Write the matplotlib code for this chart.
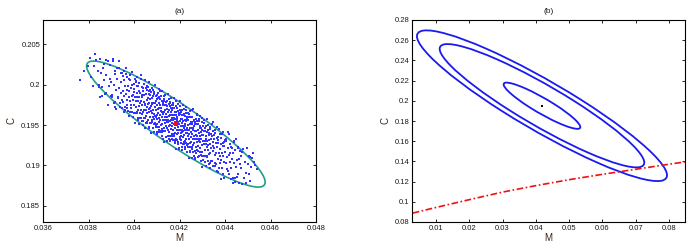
import matplotlib.pyplot as plt
from matplotlib.patches import Ellipse

plt.rcParams['font.family'] = ['Liberation Sans', 'DejaVu Sans']

# (a) Monte Carlo samples of (M, C)
samples = [
    (0.03762, 0.20058), (0.03778, 0.20172), (0.03796, 0.20231),
    (0.03812, 0.20095), (0.03826, 0.20228), (0.03830, 0.20385), (0.03841, 0.20163), (0.03848, 0.19992),
    (0.03852, 0.19845), (0.03917, 0.19722),
    (0.03853, 0.20141), (0.03858, 0.19968), (0.03864, 0.20212), (0.03869, 0.20055), (0.03875, 0.19902),
    (0.03879, 0.20118), (0.03884, 0.20297), (0.03888, 0.19981), (0.03893, 0.20064), (0.03898, 0.19861),
    (0.03901, 0.20032), (0.03904, 0.19874), (0.03908, 0.20318), (0.03912, 0.19995), (0.03915, 0.20128),
    (0.03918, 0.19791), (0.03921, 0.19938), (0.03925, 0.20071), (0.03929, 0.19852), (0.03932, 0.20204),
    (0.03935, 0.19963), (0.03938, 0.19722), (0.03941, 0.20031), (0.03944, 0.19898), (0.03947, 0.20146),
    (0.03949, 0.19809),
    (0.03951, 0.19920), (0.03953, 0.19784), (0.03955, 0.20055), (0.03958, 0.19858), (0.03959, 0.19981),
    (0.03961, 0.19682), (0.03963, 0.19879), (0.03965, 0.20137), (0.03967, 0.19805), (0.03969, 0.19928),
    (0.03971, 0.19714), (0.03973, 0.19985), (0.03976, 0.19850), (0.03977, 0.19924), (0.03979, 0.19616),
    (0.03981, 0.20054), (0.03983, 0.19796), (0.03985, 0.19956), (0.03987, 0.19747), (0.03989, 0.19857),
    (0.03991, 0.20001), (0.03993, 0.19657), (0.03995, 0.19866), (0.03997, 0.19804), (0.03999, 0.19903),
    (0.04001, 0.19750), (0.04002, 0.19947), (0.04004, 0.19652), (0.04005, 0.19842), (0.04007, 0.19726),
    (0.04008, 0.20033), (0.04009, 0.19792), (0.04011, 0.19893), (0.04012, 0.19660), (0.04014, 0.19850),
    (0.04015, 0.19979), (0.04016, 0.19561), (0.04018, 0.19803), (0.04019, 0.19685), (0.04020, 0.19846),
    (0.04022, 0.19735), (0.04023, 0.19926), (0.04025, 0.19593), (0.04026, 0.19896), (0.04027, 0.19773),
    (0.04029, 0.20068), (0.04030, 0.19692), (0.04032, 0.19802), (0.04033, 0.19639), (0.04035, 0.19842),
    (0.04036, 0.19867), (0.04037, 0.19747), (0.04039, 0.19667), (0.04040, 0.19925), (0.04041, 0.19545),
    (0.04043, 0.19790), (0.04044, 0.19690), (0.04046, 0.19875), (0.04047, 0.19465), (0.04049, 0.19765),
    (0.04050, 0.19753), (0.04051, 0.19617), (0.04052, 0.19888), (0.04053, 0.19691), (0.04055, 0.19814),
    (0.04056, 0.19531), (0.04057, 0.19728), (0.04058, 0.19986), (0.04059, 0.19654), (0.04060, 0.19761),
    (0.04061, 0.19564), (0.04063, 0.19835), (0.04064, 0.19700), (0.04065, 0.19774), (0.04066, 0.19466),
    (0.04067, 0.19921), (0.04068, 0.19663), (0.04069, 0.19823), (0.04070, 0.19597), (0.04071, 0.19707),
    (0.04072, 0.19867), (0.04074, 0.19523), (0.04075, 0.19732), (0.04076, 0.19670), (0.04077, 0.19769),
    (0.04078, 0.19765), (0.04079, 0.19565), (0.04080, 0.19833), (0.04081, 0.19643), (0.04082, 0.19938),
    (0.04083, 0.19603), (0.04085, 0.19683), (0.04086, 0.19513), (0.04087, 0.19770), (0.04088, 0.19570),
    (0.04089, 0.19888), (0.04090, 0.19642), (0.04091, 0.19722), (0.04092, 0.19617), (0.04094, 0.19777),
    (0.04095, 0.19600), (0.04096, 0.19797), (0.04097, 0.19502), (0.04098, 0.19692), (0.04099, 0.19576),
    (0.04100, 0.19866), (0.04101, 0.19625), (0.04102, 0.19743), (0.04103, 0.19510), (0.04104, 0.19700),
    (0.04105, 0.19829), (0.04106, 0.19411), (0.04107, 0.19653), (0.04108, 0.19535), (0.04109, 0.19713),
    (0.04110, 0.19585), (0.04111, 0.19776), (0.04112, 0.19443), (0.04113, 0.19746), (0.04114, 0.19623),
    (0.04115, 0.19918), (0.04116, 0.19558), (0.04117, 0.19668), (0.04118, 0.19505), (0.04119, 0.19708),
    (0.04120, 0.19717), (0.04121, 0.19597), (0.04122, 0.19517), (0.04123, 0.19792), (0.04124, 0.19412),
    (0.04125, 0.19657), (0.04126, 0.19557), (0.04127, 0.19742), (0.04128, 0.19332), (0.04129, 0.19632),
    (0.04130, 0.19665), (0.04131, 0.19465), (0.04132, 0.19750), (0.04133, 0.19560), (0.04134, 0.19855),
    (0.04135, 0.19520), (0.04136, 0.19600), (0.04137, 0.19430), (0.04138, 0.19687), (0.04139, 0.19487),
    (0.04140, 0.19788), (0.04141, 0.19558), (0.04142, 0.19638), (0.04143, 0.19533), (0.04144, 0.19693),
    (0.04145, 0.19603), (0.04146, 0.19467), (0.04147, 0.19738), (0.04148, 0.19541), (0.04149, 0.19664),
    (0.04150, 0.19364), (0.04151, 0.19561), (0.04152, 0.19819), (0.04153, 0.19487), (0.04154, 0.19610),
    (0.04155, 0.19413), (0.04155, 0.19684), (0.04156, 0.19549), (0.04157, 0.19623), (0.04158, 0.19315),
    (0.04159, 0.19770), (0.04160, 0.19496), (0.04161, 0.19656), (0.04162, 0.19447), (0.04163, 0.19557),
    (0.04164, 0.19717), (0.04165, 0.19373), (0.04165, 0.19582), (0.04166, 0.19520), (0.04167, 0.19619),
    (0.04168, 0.19483), (0.04169, 0.19680), (0.04170, 0.19368), (0.04171, 0.19558), (0.04172, 0.19442),
    (0.04173, 0.19749), (0.04174, 0.19508), (0.04175, 0.19626), (0.04175, 0.19393), (0.04176, 0.19583),
    (0.04177, 0.19712), (0.04178, 0.19294), (0.04179, 0.19536), (0.04180, 0.19401), (0.04181, 0.19579),
    (0.04182, 0.19468), (0.04183, 0.19659), (0.04184, 0.19326), (0.04185, 0.19629), (0.04185, 0.19506),
    (0.04186, 0.19801), (0.04187, 0.19441), (0.04188, 0.19551), (0.04189, 0.19388), (0.04190, 0.19575),
    (0.04191, 0.19600), (0.04192, 0.19480), (0.04193, 0.19400), (0.04194, 0.19675), (0.04195, 0.19295),
    (0.04195, 0.19540), (0.04196, 0.19440), (0.04197, 0.19625), (0.04198, 0.19215), (0.04199, 0.19515),
    (0.04200, 0.19548), (0.04201, 0.19348), (0.04202, 0.19633), (0.04203, 0.19443), (0.04204, 0.19738),
    (0.04205, 0.19403), (0.04205, 0.19483), (0.04206, 0.19313), (0.04207, 0.19570), (0.04208, 0.19370),
    (0.04209, 0.19688), (0.04210, 0.19441), (0.04211, 0.19521), (0.04212, 0.19416), (0.04213, 0.19576),
    (0.04214, 0.19486), (0.04215, 0.19350), (0.04215, 0.19621), (0.04216, 0.19424), (0.04217, 0.19547),
    (0.04218, 0.19264), (0.04219, 0.19461), (0.04220, 0.19703), (0.04221, 0.19371), (0.04222, 0.19494),
    (0.04223, 0.19297), (0.04224, 0.19568), (0.04225, 0.19433), (0.04225, 0.19507), (0.04226, 0.19199),
    (0.04227, 0.19654), (0.04228, 0.19396), (0.04229, 0.19556), (0.04230, 0.19330), (0.04231, 0.19440),
    (0.04232, 0.19600), (0.04233, 0.19256), (0.04234, 0.19465), (0.04235, 0.19403), (0.04236, 0.19502),
    (0.04237, 0.19366), (0.04238, 0.19563), (0.04239, 0.19268), (0.04240, 0.19441), (0.04241, 0.19325),
    (0.04242, 0.19632), (0.04243, 0.19391), (0.04244, 0.19509), (0.04245, 0.19276), (0.04246, 0.19466),
    (0.04247, 0.19595), (0.04248, 0.19177), (0.04249, 0.19419),
    (0.04250, 0.19284), (0.04251, 0.19462), (0.04252, 0.19351), (0.04253, 0.19542), (0.04254, 0.19209),
    (0.04255, 0.19512), (0.04256, 0.19389), (0.04257, 0.19684), (0.04258, 0.19324), (0.04259, 0.19434),
    (0.04260, 0.19255), (0.04261, 0.19458), (0.04262, 0.19483), (0.04263, 0.19363), (0.04264, 0.19283),
    (0.04265, 0.19558), (0.04266, 0.19178), (0.04267, 0.19423), (0.04268, 0.19323), (0.04269, 0.19508),
    (0.04270, 0.19081), (0.04271, 0.19381), (0.04272, 0.19431), (0.04274, 0.19231), (0.04275, 0.19516),
    (0.04276, 0.19326), (0.04277, 0.19621), (0.04278, 0.19286), (0.04279, 0.19366), (0.04280, 0.19179),
    (0.04281, 0.19436), (0.04282, 0.19236), (0.04284, 0.19554), (0.04285, 0.19324), (0.04286, 0.19404),
    (0.04287, 0.19299), (0.04288, 0.19459), (0.04289, 0.19369), (0.04290, 0.19217), (0.04291, 0.19488),
    (0.04292, 0.19291), (0.04294, 0.19414), (0.04295, 0.19131), (0.04296, 0.19328), (0.04297, 0.19586),
    (0.04298, 0.19254), (0.04299, 0.19377),
    (0.04300, 0.19163), (0.04301, 0.19434), (0.04303, 0.19299), (0.04304, 0.19373), (0.04305, 0.19065),
    (0.04306, 0.19520), (0.04308, 0.19262), (0.04309, 0.19422), (0.04310, 0.19196), (0.04311, 0.19306),
    (0.04313, 0.19466), (0.04314, 0.19122), (0.04315, 0.19331), (0.04316, 0.19269), (0.04318, 0.19368),
    (0.04319, 0.19232), (0.04320, 0.19413), (0.04321, 0.19118), (0.04323, 0.19308), (0.04324, 0.19192),
    (0.04325, 0.19499), (0.04326, 0.19258), (0.04328, 0.19376), (0.04329, 0.19143), (0.04330, 0.19316),
    (0.04332, 0.19445), (0.04333, 0.19027), (0.04335, 0.19269), (0.04336, 0.19151), (0.04337, 0.19329),
    (0.04339, 0.19218), (0.04340, 0.19392), (0.04342, 0.19059), (0.04343, 0.19362), (0.04345, 0.19239),
    (0.04346, 0.19534), (0.04347, 0.19174), (0.04349, 0.19284),
    (0.04351, 0.19332), (0.04353, 0.19212), (0.04354, 0.19132), (0.04356, 0.19407), (0.04357, 0.19027),
    (0.04359, 0.19272), (0.04361, 0.19156), (0.04363, 0.19341), (0.04364, 0.18931), (0.04366, 0.19231),
    (0.04367, 0.19281), (0.04369, 0.19081), (0.04371, 0.19349), (0.04372, 0.19159), (0.04374, 0.19454),
    (0.04376, 0.19119), (0.04377, 0.19199), (0.04379, 0.19029), (0.04381, 0.19269), (0.04383, 0.19069),
    (0.04385, 0.19387), (0.04387, 0.19157), (0.04389, 0.19237), (0.04391, 0.19116), (0.04393, 0.19276),
    (0.04395, 0.19038), (0.04397, 0.19241), (0.04399, 0.19311),
    (0.04402, 0.19169), (0.04404, 0.19033), (0.04406, 0.19304), (0.04408, 0.19107), (0.04412, 0.19213),
    (0.04414, 0.18930), (0.04416, 0.19127), (0.04418, 0.19385), (0.04421, 0.19037), (0.04423, 0.19160),
    (0.04426, 0.18963), (0.04428, 0.19234), (0.04431, 0.19082), (0.04434, 0.19156), (0.04436, 0.18848),
    (0.04438, 0.19303), (0.04441, 0.19028), (0.04442, 0.18800), (0.04444, 0.19188), (0.04447, 0.18979),
    (0.04452, 0.19072), (0.04456, 0.19232), (0.04459, 0.18888), (0.04463, 0.19081), (0.04466, 0.19019),
    (0.04469, 0.19118), (0.04472, 0.18965), (0.04476, 0.19162), (0.04482, 0.18850), (0.04486, 0.19040),
    (0.04491, 0.18908), (0.04496, 0.19215),
    (0.04503, 0.19020), (0.04507, 0.18890), (0.04511, 0.19105), (0.04515, 0.18975), (0.04521, 0.19158),
    (0.04526, 0.19040), (0.04542, 0.18960),
    # points towards the rim of the cloud
    (0.03806, 0.20327), (0.03818, 0.19979), (0.03833, 0.20302), (0.03846, 0.19969),
    (0.03852, 0.20315), (0.03859, 0.19860), (0.03866, 0.20252), (0.03873, 0.19889), (0.03879, 0.20304),
    (0.03886, 0.19750), (0.03894, 0.20242),
    (0.03902, 0.19849), (0.03906, 0.20294), (0.03911, 0.19775), (0.03915, 0.20165), (0.03920, 0.19702),
    (0.03924, 0.20202), (0.03929, 0.19837), (0.03933, 0.20289), (0.03938, 0.19769), (0.03942, 0.20140),
    (0.03947, 0.19710),
    (0.03951, 0.20102), (0.03954, 0.19667), (0.03958, 0.20167), (0.03961, 0.19729), (0.03964, 0.20204),
    (0.03968, 0.19754), (0.03971, 0.20100), (0.03974, 0.19675), (0.03978, 0.20075), (0.03981, 0.19667),
    (0.03984, 0.20122), (0.03988, 0.19712), (0.03991, 0.20159), (0.03994, 0.19604), (0.03998, 0.20014),
    (0.04001, 0.19650), (0.04004, 0.20065), (0.04006, 0.19530), (0.04009, 0.20040), (0.04011, 0.19647),
    (0.04014, 0.20092), (0.04016, 0.19592), (0.04019, 0.19982), (0.04021, 0.19519), (0.04024, 0.20019),
    (0.04026, 0.19654), (0.04029, 0.20124), (0.04031, 0.19585), (0.04034, 0.19975), (0.04036, 0.19545),
    (0.04039, 0.19955), (0.04041, 0.19502), (0.04044, 0.20002), (0.04046, 0.19582), (0.04049, 0.20057),
    (0.04050, 0.19589), (0.04052, 0.19954), (0.04054, 0.19529), (0.04056, 0.19929), (0.04058, 0.19539),
    (0.04060, 0.19975), (0.04062, 0.19565), (0.04064, 0.20030), (0.04066, 0.19475), (0.04068, 0.19885),
    (0.04070, 0.19522), (0.04072, 0.19937), (0.04074, 0.19402), (0.04076, 0.19912), (0.04078, 0.19537),
    (0.04080, 0.19964), (0.04082, 0.19464), (0.04084, 0.19854), (0.04086, 0.19409), (0.04088, 0.19909),
    (0.04091, 0.19525), (0.04093, 0.19995), (0.04096, 0.19475), (0.04098, 0.19865),
    (0.04100, 0.19417), (0.04102, 0.19827), (0.04103, 0.19392), (0.04105, 0.19892), (0.04107, 0.19472),
    (0.04109, 0.19947), (0.04110, 0.19479), (0.04112, 0.19844), (0.04114, 0.19419), (0.04116, 0.19819),
    (0.04118, 0.19429), (0.04120, 0.19865), (0.04122, 0.19455), (0.04123, 0.19920), (0.04125, 0.19365),
    (0.04127, 0.19775), (0.04129, 0.19430), (0.04130, 0.19827), (0.04132, 0.19292), (0.04134, 0.19802),
    (0.04136, 0.19427), (0.04138, 0.19872), (0.04140, 0.19354), (0.04142, 0.19744), (0.04144, 0.19299),
    (0.04146, 0.19799), (0.04148, 0.19434),
    (0.04150, 0.19885), (0.04152, 0.19365), (0.04153, 0.19755), (0.04155, 0.19325), (0.04157, 0.19735),
    (0.04159, 0.19300), (0.04160, 0.19782), (0.04162, 0.19362), (0.04163, 0.19837), (0.04165, 0.19387),
    (0.04167, 0.19752), (0.04169, 0.19327), (0.04170, 0.19709), (0.04172, 0.19319), (0.04173, 0.19774),
    (0.04175, 0.19364), (0.04177, 0.19829), (0.04179, 0.19274), (0.04180, 0.19665), (0.04182, 0.19320),
    (0.04184, 0.19735), (0.04186, 0.19200), (0.04188, 0.19710), (0.04190, 0.19317), (0.04192, 0.19762),
    (0.04194, 0.19262), (0.04196, 0.19652), (0.04198, 0.19207),
    (0.04200, 0.19688), (0.04202, 0.19323), (0.04203, 0.19793), (0.04205, 0.19273), (0.04207, 0.19663),
    (0.04209, 0.19233), (0.04210, 0.19625), (0.04212, 0.19190), (0.04213, 0.19690), (0.04215, 0.19270),
    (0.04217, 0.19745), (0.04219, 0.19295), (0.04220, 0.19642), (0.04222, 0.19217), (0.04223, 0.19617),
    (0.04225, 0.19227), (0.04227, 0.19682), (0.04229, 0.19272), (0.04230, 0.19718), (0.04232, 0.19163),
    (0.04234, 0.19573), (0.04236, 0.19228), (0.04238, 0.19643), (0.04240, 0.19090), (0.04242, 0.19600),
    (0.04244, 0.19225), (0.04246, 0.19670), (0.04248, 0.19170),
    (0.04251, 0.19542), (0.04253, 0.19097), (0.04255, 0.19597), (0.04257, 0.19232), (0.04259, 0.19702),
    (0.04261, 0.19163), (0.04263, 0.19553), (0.04265, 0.19123), (0.04267, 0.19533), (0.04269, 0.19098),
    (0.04271, 0.19580), (0.04273, 0.19160), (0.04275, 0.19635), (0.04277, 0.19185), (0.04279, 0.19550),
    (0.04281, 0.19107), (0.04283, 0.19507), (0.04285, 0.19117), (0.04287, 0.19572), (0.04289, 0.19162),
    (0.04291, 0.19608), (0.04293, 0.19053), (0.04295, 0.19463), (0.04297, 0.19118), (0.04299, 0.19533),
    (0.04301, 0.18980), (0.04304, 0.19490), (0.04306, 0.19115), (0.04308, 0.19560), (0.04311, 0.19042),
    (0.04314, 0.19432), (0.04316, 0.18987), (0.04318, 0.19487), (0.04320, 0.19103), (0.04322, 0.19573),
    (0.04324, 0.19053), (0.04326, 0.19443), (0.04328, 0.19013), (0.04331, 0.19405), (0.04334, 0.18970),
    (0.04336, 0.19470), (0.04338, 0.19050), (0.04341, 0.19507), (0.04344, 0.19057), (0.04346, 0.19422),
    (0.04348, 0.18997),
    (0.04352, 0.19378), (0.04356, 0.18988), (0.04358, 0.19443), (0.04361, 0.19015), (0.04364, 0.19480),
    (0.04368, 0.18925), (0.04371, 0.19317), (0.04374, 0.18972), (0.04378, 0.19387), (0.04381, 0.18833),
    (0.04383, 0.19343), (0.04386, 0.18968), (0.04389, 0.19413), (0.04391, 0.18895), (0.04394, 0.19285),
    (0.04397, 0.18840),
    (0.04403, 0.19322), (0.04407, 0.18957), (0.04412, 0.19408), (0.04416, 0.18888), (0.04421, 0.19260),
    (0.04425, 0.18830), (0.04431, 0.19222), (0.04434, 0.18787), (0.04439, 0.19287), (0.04443, 0.18848),
    (0.04448, 0.19323),
    (0.04453, 0.18855), (0.04458, 0.19220), (0.04463, 0.18777), (0.04468, 0.19177), (0.04474, 0.18768),
    (0.04481, 0.19205), (0.04492, 0.18777),
    (0.04504, 0.19123), (0.04512, 0.18805), (0.04518, 0.19095), (0.04533, 0.19007),
]
sample_m = [p[0] for p in samples]
sample_c = [p[1] for p in samples]

# estimate (mean) and its confidence ellipse
best_m, best_c = 0.04184, 0.19512
ellipse_a = (0.01724, 0.00275, -64.4)   # width, height, angle (data units)

# (b) nested confidence regions around the same estimate
ellipses_b = [(0.0506, 0.00805, -64.4), (0.1350, 0.02147, -64.4), (0.1650, 0.02624, -64.4)]
curve_m = [0.003, 0.01, 0.02, 0.03, 0.04, 0.05, 0.06, 0.07, 0.08, 0.085]
curve_c = [0.0888, 0.0944, 0.1021, 0.1096, 0.1160, 0.1219, 0.1272, 0.1322, 0.1372, 0.1396]

xticks_a = [0.036, 0.038, 0.040, 0.042, 0.044, 0.046, 0.048]
xlabels_a = ['0.036', '0.038', '0.04', '0.042', '0.044', '0.046', '0.048']
yticks_a = [0.185, 0.190, 0.195, 0.200, 0.205]
ylabels_a = ['0.185', '0.19', '0.195', '0.2', '0.205']
xticks_b = [0.01, 0.02, 0.03, 0.04, 0.05, 0.06, 0.07, 0.08]
xlabels_b = ['0.01', '0.02', '0.03', '0.04', '0.05', '0.06', '0.07', '0.08']
yticks_b = [0.08, 0.10, 0.12, 0.14, 0.16, 0.18, 0.20, 0.22, 0.24, 0.26, 0.28]
ylabels_b = ['0.08', '0.1', '0.12', '0.14', '0.16', '0.18', '0.2', '0.22', '0.24', '0.26', '0.28']

label_color = '#3c2415'

fig = plt.figure(figsize=(6.97, 2.5), dpi=100)
ax1 = fig.add_axes([0.0617, 0.112, 0.3917, 0.808])
ax2 = fig.add_axes([0.5911, 0.112, 0.3917, 0.808])

for ax in (ax1, ax2):
    ax.tick_params(direction='in', top=True, right=True, length=2.5, width=0.6,
                   labelsize=5.5, pad=2, colors='black', labelcolor='#1a1a1a')
    for s in ax.spines.values():
        s.set_linewidth(0.8)

# panel (a)
ax1.plot(sample_m, sample_c, 's', color='#3333ff', markersize=1.6, markeredgewidth=0)
w, h, ang = ellipse_a
ax1.add_patch(Ellipse((best_m, best_c), w, h, angle=ang, fill=False,
                      edgecolor='#1f9e87', linewidth=1.2))
ax1.plot([best_m], [best_c], 's', color='#ee1111', markersize=3, markeredgewidth=0)
ax1.set_xlim(0.036, 0.048)
ax1.set_ylim(0.183, 0.208)
ax1.set_xticks(xticks_a, xlabels_a)
ax1.set_yticks(yticks_a, ylabels_a)
ax1.set_title('(a)', fontsize=6, pad=5, color='#1a1a1a')
ax1.set_xlabel('M', fontsize=7, labelpad=1, color=label_color)
ax1.set_ylabel('C', fontsize=7, labelpad=3.5, color=label_color)

# panel (b)
for w, h, ang in ellipses_b:
    ax2.add_patch(Ellipse((best_m, best_c), w, h, angle=ang, fill=False,
                          edgecolor='#1a1aee', linewidth=1.3))
ax2.plot([best_m], [best_c], 's', color='black', markersize=1.5, markeredgewidth=0)
ax2.plot(curve_m, curve_c, color='#ee1111', linewidth=1.2, linestyle=(0, (4, 1.5, 1, 1.5)))
ax2.set_xlim(0.0028, 0.0848)
ax2.set_ylim(0.08, 0.28)
ax2.set_xticks(xticks_b, xlabels_b)
ax2.set_yticks(yticks_b, ylabels_b)
ax2.set_title('(b)', fontsize=6, pad=5, color='#1a1a1a')
ax2.set_xlabel('M', fontsize=7, labelpad=1, color=label_color)
ax2.set_ylabel('C', fontsize=7, labelpad=2.5, color=label_color)

fig.savefig('out.png', dpi=100)
